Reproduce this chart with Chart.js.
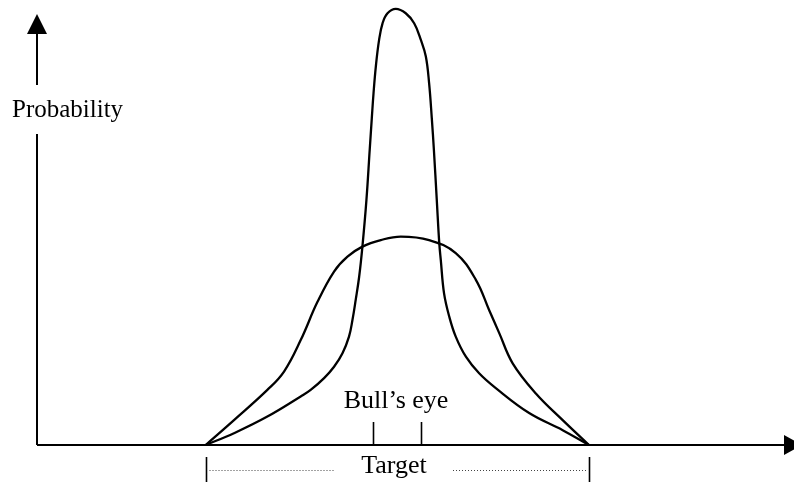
<!DOCTYPE html>
<html>
<head>
<meta charset="utf-8">
<script src="https://cdn.jsdelivr.net/npm/chart.js@4.4.1/dist/chart.umd.min.js"></script>
<style>
  html, body { margin: 0; padding: 0; background: #fff; }
  canvas { display: block; }
</style>
</head>
<body>
<canvas id="probChart" width="794" height="482"></canvas>
<script>
// position relative to the target (-1 .. 1), probability scaled to narrow peak = 1
const narrowX = [-1.0, -0.852, -0.678, -0.504, -0.452, -0.382, -0.330, -0.286, -0.252, -0.234, -0.217, -0.199, -0.182, -0.161, -0.144, -0.133, -0.124, -0.112, -0.095, -0.077, -0.051, -0.008,
                 0.044, 0.088, 0.123, 0.149, 0.166, 0.180, 0.191, 0.206, 0.219, 0.227, 0.244, 0.271, 0.305, 0.358, 0.427, 0.514, 0.688, 0.863, 1.0];
const narrowY = [0, 0.027, 0.065, 0.111, 0.126, 0.153, 0.179, 0.210, 0.248, 0.286, 0.332, 0.385, 0.454, 0.561, 0.675, 0.748, 0.805, 0.866, 0.927, 0.965, 0.988, 0.998,
                 0.988, 0.965, 0.927, 0.889, 0.828, 0.748, 0.675, 0.561, 0.462, 0.423, 0.347, 0.294, 0.248, 0.202, 0.164, 0.130, 0.073, 0.034, 0];

const wideX = [-1.0, -0.852, -0.678, -0.591, -0.504, -0.417, -0.330, -0.260, -0.182, -0.086, 0.018, 0.166, 0.305, 0.410, 0.479, 0.532, 0.602, 0.723, 0.863, 1.0];
const wideY = [0, 0.057, 0.126, 0.168, 0.240, 0.327, 0.397, 0.431, 0.454, 0.469, 0.477, 0.469, 0.439, 0.378, 0.309, 0.256, 0.187, 0.118, 0.057, 0];

const bullsEye = [-0.125, 0.125];
const target = [-1, 1];

const toPoints = (xs, ys) => xs.map((x, i) => ({ x: x, y: ys[i] }));

const sketch = {
    id: "sketch",
    afterDraw(chart) {
        const c = chart.ctx;
        const xs = chart.scales.x;
        const ys = chart.scales.y;
        const y0 = ys.getPixelForValue(0);
        const left = chart.chartArea.left;

        c.save();
        c.strokeStyle = "#000";
        c.fillStyle = "#000";
        c.lineWidth = 2;

        // y axis, broken around the label
        c.beginPath();
        c.moveTo(left, y0);
        c.lineTo(left, 134);
        c.moveTo(left, 85);
        c.lineTo(left, 30);
        c.stroke();
        c.beginPath();
        c.moveTo(left, 14);
        c.lineTo(left - 10, 34);
        c.lineTo(left + 10, 34);
        c.closePath();
        c.fill();

        // x axis
        c.beginPath();
        c.moveTo(left, y0);
        c.lineTo(786, y0);
        c.stroke();
        c.beginPath();
        c.moveTo(802, y0);
        c.lineTo(784, y0 - 10);
        c.lineTo(784, y0 + 10);
        c.closePath();
        c.fill();

        // bull's eye ticks
        c.lineWidth = 1.6;
        c.beginPath();
        bullsEye.forEach(v => {
            const px = Math.round(xs.getPixelForValue(v)) + 0.5;
            c.moveTo(px, y0);
            c.lineTo(px, 422);
        });
        c.stroke();

        // target bracket
        const tl = Math.round(xs.getPixelForValue(target[0])) + 0.5;
        const tr = Math.round(xs.getPixelForValue(target[1])) + 0.5;
        c.beginPath();
        c.moveTo(tl, 457);
        c.lineTo(tl, 482);
        c.moveTo(tr, 457);
        c.lineTo(tr, 482);
        c.stroke();

        c.lineWidth = 1;
        c.strokeStyle = "#444";
        c.setLineDash([1, 2]);
        c.beginPath();
        c.moveTo(tl + 3, 470.5);
        c.lineTo(335, 470.5);
        c.moveTo(453, 470.5);
        c.lineTo(tr - 2, 470.5);
        c.stroke();
        c.setLineDash([]);

        // labels
        c.font = "25px 'Liberation Serif', 'Times New Roman', serif";
        c.textBaseline = "alphabetic";
        c.textAlign = "left";
        c.fillText("Probability", 12, 117);

        c.font = "26px 'Liberation Serif', 'Times New Roman', serif";
        c.textAlign = "center";
        c.fillText("Bull\u2019s eye", 396, 408);
        c.fillText("Target", 394, 473);
        c.restore();
    }
};

const ctx = document.getElementById("probChart").getContext("2d");

const chart = new Chart(ctx, {
    type: "line",
    data: {
        datasets: [
            {
                data: toPoints(narrowX, narrowY),
                borderColor: "#000",
                borderWidth: 2.3,
                pointRadius: 0,
                tension: 0.4,
                clip: false
            },
            {
                data: toPoints(wideX, wideY),
                borderColor: "#000",
                borderWidth: 2.3,
                pointRadius: 0,
                tension: 0.4,
                clip: false
            }
        ]
    },
    options: {
        responsive: false,
        animation: false,
        events: [],
        layout: {
            padding: { left: 37, right: 0, top: 8, bottom: 37 }
        },
        plugins: {
            legend: { display: false },
            tooltip: { enabled: false }
        },
        scales: {
            x: { type: "linear", min: -1.88, max: 2.07, display: false },
            y: { min: 0, max: 1.0, display: false }
        }
    },
    plugins: [sketch]
});
</script>
</body>
</html>
